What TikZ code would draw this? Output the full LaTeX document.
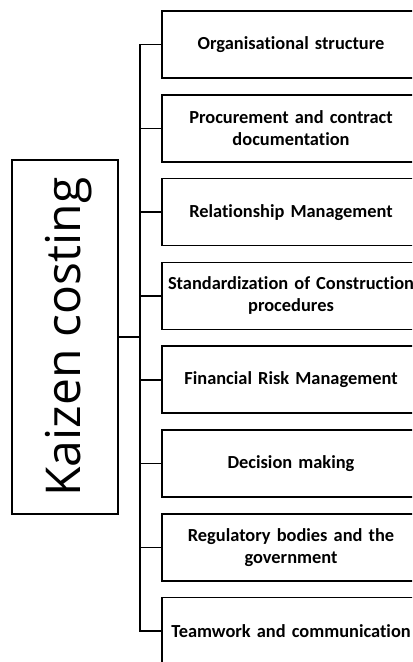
\documentclass[tikz,border=0pt]{standalone}
\usepackage{fontspec}
\setmainfont{Carlito}[Ligatures=NoCommon]
\newfontfamily\rootfont{Open Sans}
\usetikzlibrary{positioning}

\tikzset{
    factor/.style={draw, line width=1.1pt, minimum width=193.5pt, minimum height=50.25pt,
        text width=189pt, align=center, inner sep=0pt,
        font=\fontsize{13.8}{16.4}\selectfont\bfseries},
    rootbox/.style={draw, line width=1.1pt, rotate=90, minimum width=265.5pt,
        minimum height=79.5pt, inner sep=0pt, text height=23.3pt, text depth=0pt,
        font=\rootfont\fontsize{36}{42}\selectfont},
    link/.style={line width=1.2pt}
}

\begin{document}
\begin{tikzpicture}[x=0.75pt, y=-0.75pt]
    \useasboundingbox (0,0) rectangle (412,662);
    \clip (0,0) rectangle (412,662);
    \node[rootbox] (kaizen) at (65,337) {Kaizen costing};
    \coordinate (trunk) at (140,337);
    \draw[link] (kaizen.south) -- (trunk);
    \foreach[count=\i] \ftext in {Organisational structure,
        {Procurement and contract\\documentation},
        Relationship Management,
        {Standardization of Construction\\procedures},
        Financial Risk Management,
        Decision making,
        {Regulatory bodies and the\\government},
        Teamwork and communication} {
        \node[factor] (f-\i) at (291,{44.5+83.8*(\i-1)}) {\ftext};
        \draw[link] (trunk) |- (f-\i.west);
    }
\end{tikzpicture}
\end{document}
